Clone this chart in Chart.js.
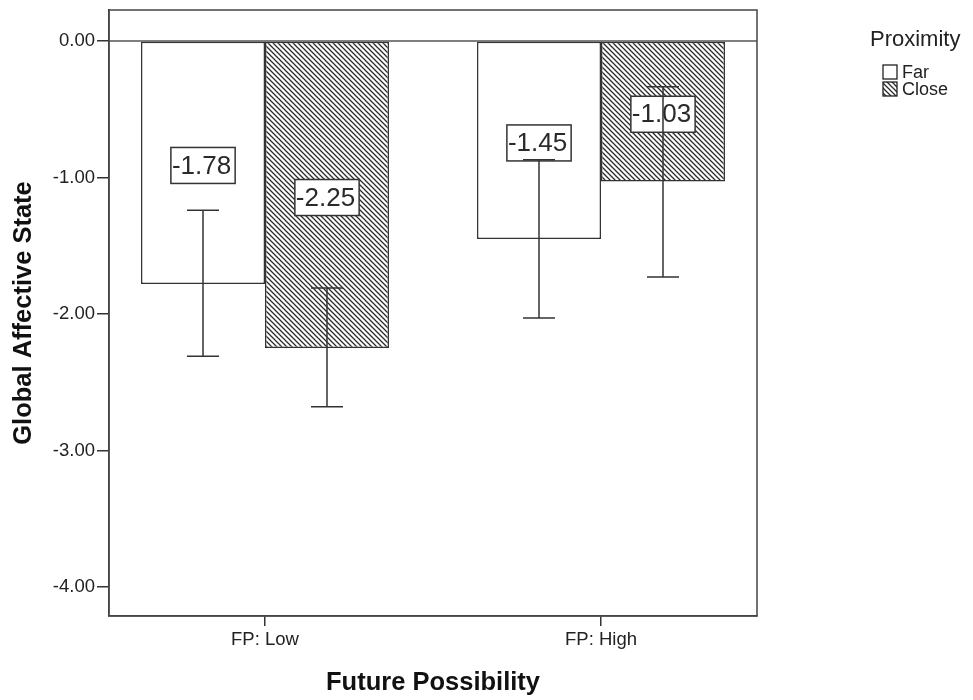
<!DOCTYPE html>
<html>
<head>
<meta charset="utf-8">
<script src="https://cdn.jsdelivr.net/npm/chart.js@4/dist/chart.umd.min.js"></script>
<style>
  html, body { margin: 0; padding: 0; background: #fff; }
  #c { display: block; }
</style>
</head>
<body>
<canvas id="c" width="973" height="700"></canvas>
<script>
// ---- data ----
const categories = ['FP: Low', 'FP: High'];
const seriesNames = ['Far', 'Close'];
const farValues = [-1.78, -1.45];
const closeValues = [-2.25, -1.03];
const farErrLow = [-2.31, -2.03];
const farErrHigh = [-1.24, -0.87];
const closeErrLow = [-2.68, -1.73];
const closeErrHigh = [-1.81, -0.335];
const yTicks = [0, -1, -2, -3, -4];
const legendTitle = 'Proximity';
const xTitle = 'Future Possibility';
const yTitle = 'Global Affective State';

const FONT = "'Liberation Sans', Arial, sans-serif";
const INK = '#333333';

function makeHatch() {
  const s = 5;
  const c = document.createElement('canvas');
  c.width = s; c.height = s;
  const g = c.getContext('2d');
  g.fillStyle = '#ffffff';
  g.fillRect(0, 0, s, s);
  g.strokeStyle = '#2a2a2a';
  g.lineWidth = 1.25;
  g.beginPath();
  g.moveTo(-1, -1); g.lineTo(s + 1, s + 1);
  g.moveTo(-1, s - 1); g.lineTo(1, s + 1);
  g.moveTo(s - 1, -1); g.lineTo(s + 1, 1);
  g.stroke();
  return g.createPattern(c, 'repeat');
}
const hatch = makeHatch();

const errLows = [farErrLow, closeErrLow];
const errHighs = [farErrHigh, closeErrHigh];

const frameAndZero = {
  id: 'frameAndZero',
  beforeDatasetsDraw(chart) {
    const { ctx, chartArea: a, scales: { y } } = chart;
    const y0 = y.getPixelForValue(0);
    ctx.save();
    ctx.strokeStyle = '#555';
    ctx.lineWidth = 1.5;
    ctx.beginPath();
    ctx.moveTo(a.left, y0); ctx.lineTo(a.right, y0);
    ctx.stroke();
    ctx.restore();
  },
  afterDraw(chart) {
    const { ctx, chartArea: a } = chart;
    ctx.save();
    ctx.strokeStyle = '#444';
    ctx.lineWidth = 1.5;
    ctx.strokeRect(a.left, a.top, a.right - a.left, a.bottom - a.top);
    ctx.restore();
  }
};

const labelsAndErrors = {
  id: 'labelsAndErrors',
  afterDatasetsDraw(chart) {
    const { ctx, scales: { y } } = chart;
    ctx.save();
    // value labels
    ctx.font = '26px ' + FONT;
    ctx.textBaseline = 'middle';
    chart.data.datasets.forEach((ds, di) => {
      const meta = chart.getDatasetMeta(di);
      meta.data.forEach((bar, i) => {
        const v = ds.data[i].y;
        const txt = v.toFixed(2);
        const tw = ctx.measureText(txt).width;
        const w = tw + 5, h = 36;
        const cy = y.getPixelForValue(v / 2) + 3;
        const left = bar.x - w / 2;
        ctx.fillStyle = '#fff';
        ctx.fillRect(left, cy - h / 2, w, h);
        ctx.strokeStyle = INK;
        ctx.lineWidth = 1.5;
        ctx.strokeRect(left, cy - h / 2, w, h);
        ctx.fillStyle = '#2a2a2a';
        ctx.textAlign = 'left';
        ctx.fillText(txt, left + 1, cy + 1);
      });
    });
    // error bars
    ctx.strokeStyle = INK;
    ctx.lineWidth = 1.5;
    chart.data.datasets.forEach((ds, di) => {
      const meta = chart.getDatasetMeta(di);
      meta.data.forEach((bar, i) => {
        const yl = y.getPixelForValue(errLows[di][i]);
        const yh = y.getPixelForValue(errHighs[di][i]);
        const x = bar.x, cap = 16;
        ctx.beginPath();
        ctx.moveTo(x, yl); ctx.lineTo(x, yh);
        ctx.moveTo(x - cap, yl); ctx.lineTo(x + cap, yl);
        ctx.moveTo(x - cap, yh); ctx.lineTo(x + cap, yh);
        ctx.stroke();
      });
    });
    ctx.restore();
  }
};

const customLegend = {
  id: 'customLegend',
  afterDraw(chart) {
    const { ctx } = chart;
    ctx.save();
    ctx.fillStyle = '#222';
    ctx.textBaseline = 'middle';
    ctx.textAlign = 'left';
    ctx.font = '22px ' + FONT;
    ctx.fillText(legendTitle, 870, 40);
    ctx.font = '18px ' + FONT;
    const rows = [72, 89];
    chart.data.datasets.forEach((ds, di) => {
      const cy = rows[di];
      ctx.fillStyle = ds.backgroundColor;
      ctx.fillRect(883, cy - 7, 14, 14);
      ctx.strokeStyle = '#222';
      ctx.lineWidth = 1.3;
      ctx.strokeRect(883, cy - 7, 14, 14);
      ctx.fillStyle = '#222';
      ctx.fillText(ds.label, 902, cy + 1);
    });
    ctx.restore();
  }
};

const chart = new Chart(document.getElementById('c'), {
  type: 'bar',
  data: {
    datasets: [
      {
        label: seriesNames[0],
        data: farValues.map((v, i) => ({ x: i, y: v })),
        backgroundColor: '#ffffff',
        borderColor: INK,
        borderWidth: 1.5,
        borderSkipped: false,
        categoryPercentage: 0.738,
        barPercentage: 1
      },
      {
        label: seriesNames[1],
        data: closeValues.map((v, i) => ({ x: i, y: v })),
        backgroundColor: hatch,
        borderColor: INK,
        borderWidth: 1.5,
        borderSkipped: false,
        categoryPercentage: 0.738,
        barPercentage: 1
      }
    ]
  },
  options: {
    responsive: false,
    animation: false,
    devicePixelRatio: 1,
    layout: { padding: { left: 0, right: 216, top: 10, bottom: 0 } },
    plugins: { legend: { display: false }, tooltip: { enabled: false } },
    scales: {
      x: {
        type: 'linear',
        offset: false,
        min: -0.4643,
        max: 1.4643,
        afterBuildTicks: (s) => { s.ticks = categories.map((c, i) => ({ value: i })); },
        afterFit: (s) => { s.height = 84; s.paddingLeft = 0; s.paddingRight = 0; },
        ticks: {
          callback: (v) => categories[v],
          font: { family: FONT, size: 18.5 },
          color: '#222',
          padding: 3,
          maxRotation: 0
        },
        grid: { drawOnChartArea: false, offset: false, tickLength: 10, color: INK, lineWidth: 1.5 },
        border: { display: true, color: '#444', width: 1.5 },
        title: {
          display: true, text: xTitle, color: '#111',
          font: { family: FONT, size: 25.5, weight: 'bold' },
          padding: { top: 0, bottom: 2 }
        }
      },
      y: {
        min: -4.213,
        max: 0.227,
        afterBuildTicks: (s) => { s.ticks = yTicks.map(v => ({ value: v })); },
        afterFit: (s) => { s.width = 109; s.paddingTop = 0; s.paddingBottom = 0; },
        ticks: {
          callback: (v) => Number(v).toFixed(2),
          font: { family: FONT, size: 18.5 },
          color: '#222',
          padding: 2
        },
        grid: { drawOnChartArea: false, tickLength: 12, color: INK, lineWidth: 1.5 },
        border: { display: true, color: '#444', width: 1.5 },
        title: {
          display: true, text: yTitle, color: '#111',
          font: { family: FONT, size: 25.5, weight: 'bold' },
          padding: { top: 9, bottom: 0 }
        }
      }
    }
  },
  plugins: [frameAndZero, labelsAndErrors, customLegend]
});
</script>
</body>
</html>
